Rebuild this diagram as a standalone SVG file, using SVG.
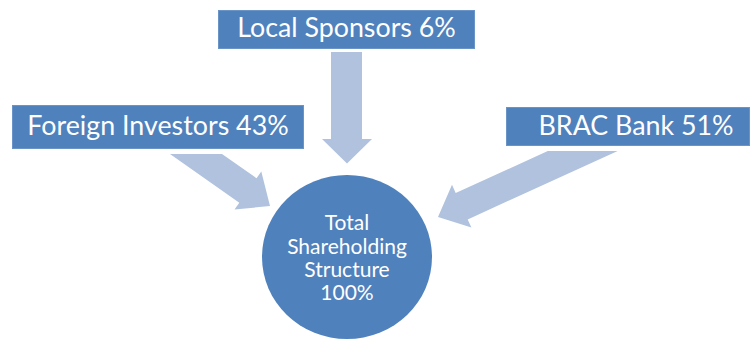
<svg xmlns="http://www.w3.org/2000/svg" width="756" height="339" viewBox="0 0 756 339">
<style>
.box{fill:#4F81BD;stroke:#6A93C8;stroke-width:1}
.arrow{fill:#B0C2DE}
.lbl{font-family:Lato,"Open Sans","Liberation Sans",sans-serif;fill:#FFFFFF;text-anchor:middle}
.big{font-size:26.8px}
.small{font-size:21px}
</style>
<rect width="756" height="339" fill="#FFFFFF"/>
<g id="connectors">
<polygon class="arrow" points="331,52 362,52 362,139 372,139 347,163.5 322,139 331,139"/>
<polygon class="arrow" points="170,154 222,154 256.5,178.2 261.3,171.4 270,206 234.5,209.6 239.3,202.8"/>
<polygon class="arrow" points="547.8,151 617.7,151 467.7,219.4 471.4,227.6 438,217 452,184.8 455.7,193"/>
</g>
<g id="local-sponsors">
<rect class="box" x="218.5" y="10.5" width="256" height="38"/>
<text class="lbl big" x="346.5" y="37">Local Sponsors 6%</text>
</g>
<g id="foreign-investors">
<rect class="box" x="12.5" y="105.5" width="291" height="43"/>
<text class="lbl big" x="158" y="135">Foreign Investors 43%</text>
</g>
<g id="brac-bank">
<rect class="box" x="506.5" y="107.5" width="243" height="38"/>
<text class="lbl big" x="636" y="134.5">BRAC Bank 51%</text>
</g>
<g id="total">
<ellipse cx="347" cy="257" rx="85" ry="82" fill="#4F81BD"/>
<text class="lbl small" x="347" y="230">Total</text>
<text class="lbl small" x="347" y="253.5">Shareholding</text>
<text class="lbl small" x="347" y="277">Structure</text>
<text class="lbl small" x="347" y="299.5">100%</text>
</g>
</svg>
